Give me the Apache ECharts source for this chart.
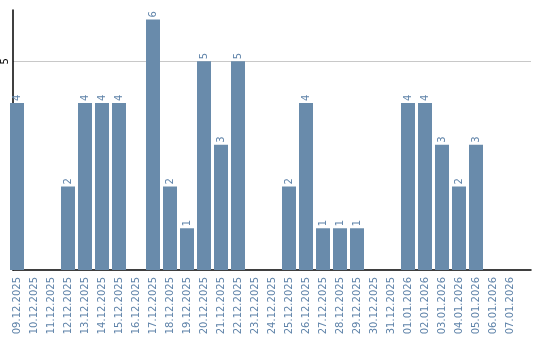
<!DOCTYPE html>
<html><head><meta charset="utf-8">
<script src="https://cdn.jsdelivr.net/npm/echarts@6/dist/echarts.min.js"></script>
<style>html,body{margin:0;padding:0;background:#fff}#c{width:540px;height:340px}</style>
</head><body><div id="c"></div>
<script>
const categories = ["09.12.2025","10.12.2025","11.12.2025","12.12.2025","13.12.2025","14.12.2025","15.12.2025","16.12.2025","17.12.2025","18.12.2025","19.12.2025","20.12.2025","21.12.2025","22.12.2025","23.12.2025","24.12.2025","25.12.2025","26.12.2025","27.12.2025","28.12.2025","29.12.2025","30.12.2025","31.12.2025","01.01.2026","02.01.2026","03.01.2026","04.01.2026","05.01.2026","06.01.2026","07.01.2026"];
const values = [4,0,0,2,4,4,4,0,6,2,1,5,3,5,0,0,2,4,1,1,1,0,0,4,4,3,2,3,0,0];
const yTicks = [5];

const blue = '#698bab';
const labelBlue = '#5f83a9';
const font = 'DejaVu Sans';
const yMax = 6.23;

const chart = echarts.init(document.getElementById('c'), null, {renderer:'canvas'});
chart.setOption({
  animation: false,
  grid: [
    {left: 8.5, width: 510, top: 10, bottom: 70},
    {left: 10, width: 521, top: 10, bottom: 70}
  ],
  xAxis: [
    {gridIndex: 0, type: 'category', data: categories,
     axisLine: {show: false}, axisTick: {show: false},
     axisLabel: {interval: 0, rotate: 90, margin: 7, color: labelBlue, fontFamily: font, fontSize: 10}},
    {gridIndex: 1, type: 'value', min: 0, max: 1,
     axisLine: {show: true, lineStyle: {color: '#000', width: 1.5}},
     axisTick: {show: false}, axisLabel: {show: false}, splitLine: {show: false}}
  ],
  yAxis: [
    {gridIndex: 0, type: 'value', min: 0, max: yMax, show: false, splitLine: {show: false}},
    {gridIndex: 1, type: 'value', min: 0, max: yMax, interval: 5,
     axisLine: {show: true, lineStyle: {color: '#000', width: 1.5}},
     axisTick: {show: false},
     splitLine: {show: true, showMaxLine: false, showMinLine: false, lineStyle: {color: '#c8c8c8', width: 1}},
     axisLabel: {rotate: 90, margin: 3, color: '#000', fontFamily: font, fontSize: 10,
       showMinLabel: false, showMaxLabel: false,
       formatter: v => yTicks.includes(v) ? String(v) : ''}}
  ],
  series: [{
    type: 'bar', xAxisIndex: 0, yAxisIndex: 0,
    data: values.map(v => v === 0 ? null : v),
    barWidth: 14,
    itemStyle: {color: blue},
    label: {show: true, position: 'top', rotate: 90, align: 'left', verticalAlign: 'middle',
      distance: 2, color: labelBlue, fontFamily: font, fontSize: 10}
  }]
});
</script></body></html>
